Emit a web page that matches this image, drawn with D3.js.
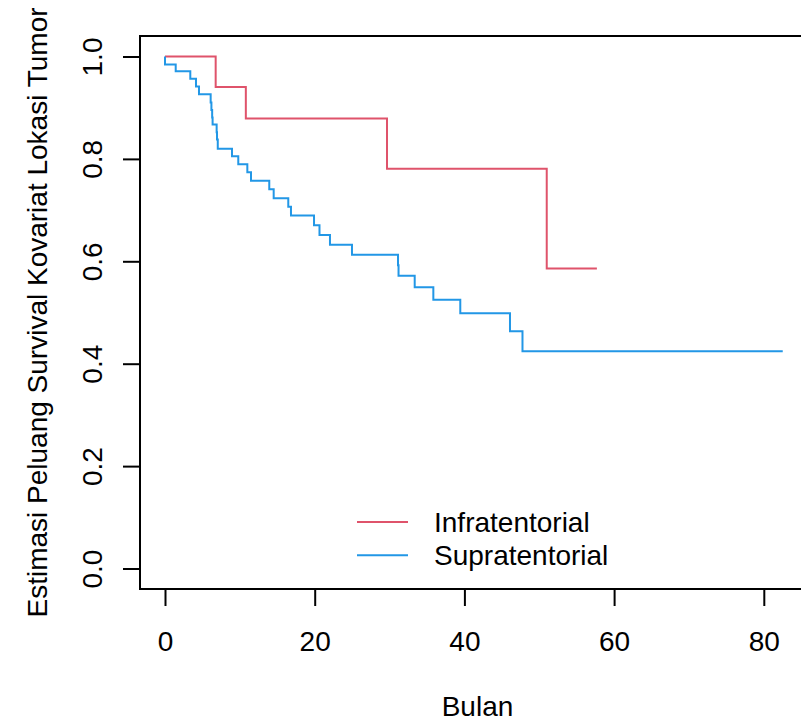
<!DOCTYPE html>
<html>
<head>
<meta charset="utf-8">
<script src="https://cdn.jsdelivr.net/npm/d3@7"></script>
<style>
  html, body { margin: 0; padding: 0; background: #fff; }
  svg { display: block; font-family: "Liberation Sans", Arial, Helvetica, sans-serif; }
</style>
</head>
<body>
<svg id="chart" width="801" height="724"></svg>
<script>
// Kaplan-Meier step estimates by tumour location
const groupNames = ["Infratentorial", "Supratentorial"];
const groupColors = ["#DF536B", "#2297E6"];

const infraTimes = [0, 6.77, 10.8, 29.66, 51.0, 57.7];
const infraSurv  = [1.0, 0.9406, 0.879, 0.7806, 0.5857, 0.5857];

const supraTimes = [0, 0, 1.43, 3.38, 4.14, 4.54, 6.1, 6.2, 6.3, 6.36, 6.9, 6.95, 7.05,
  8.95, 9.79, 11.0, 11.49, 13.93, 14.52, 16.47, 16.83, 19.91, 20.64, 22.04, 24.98,
  31.13, 31.2, 33.36, 35.85, 39.45, 46.09, 47.76, 82.53];
const supraSurv  = [1.0, 0.9844, 0.9713, 0.9564, 0.9414, 0.9263, 0.9101, 0.8955, 0.8808, 0.867, 0.852, 0.8378, 0.8196,
  0.8052, 0.7895, 0.7739, 0.7571, 0.7407, 0.7231, 0.7063, 0.6893, 0.6703, 0.6516, 0.6322, 0.613,
  0.5921, 0.572, 0.5492, 0.5251, 0.4987, 0.4636, 0.4245, 0.4245];

const xTicks = [0, 20, 40, 60, 80];
const yTicks = [0.0, 0.2, 0.4, 0.6, 0.8, 1.0];
const xLabel = "Bulan";
const yLabel = "Estimasi Peluang Survival Kovariat Lokasi Tumor";

// layout
const svg = d3.select("#chart");
const plot = { left: 140, right: 815, top: 36, bottom: 589 };
const xLim = [0, 83.5], yLim = [0, 1];
const xPad = (xLim[1] - xLim[0]) * 0.04, yPad = (yLim[1] - yLim[0]) * 0.04;

const x = d3.scaleLinear().domain([xLim[0] - xPad, xLim[1] + xPad]).range([plot.left, plot.right]);
const y = d3.scaleLinear().domain([yLim[0] - yPad, yLim[1] + yPad]).range([plot.bottom, plot.top]);

const fontSize = 28;

// survival curves
const line = d3.line().x(d => x(d[0])).y(d => y(d[1])).curve(d3.curveStepAfter);
const series = [
  d3.zip(infraTimes, infraSurv),
  d3.zip(supraTimes, supraSurv)
];
svg.append("g").selectAll("path").data(series).join("path")
  .attr("d", line)
  .attr("fill", "none")
  .attr("stroke", (d, i) => groupColors[i])
  .attr("stroke-width", 2);

// frame
svg.append("rect")
  .attr("x", plot.left).attr("y", plot.top)
  .attr("width", plot.right - plot.left).attr("height", plot.bottom - plot.top)
  .attr("fill", "none").attr("stroke", "#000").attr("stroke-width", 2);

// x axis
const xAxis = svg.append("g").attr("transform", `translate(0,${plot.bottom})`)
  .call(d3.axisBottom(x).tickValues(xTicks).tickSize(17).tickPadding(0).tickFormat(d3.format("d")));
xAxis.select(".domain").remove();
xAxis.selectAll(".tick line").attr("stroke", "#000").attr("stroke-width", 2);
xAxis.selectAll(".tick text")
  .attr("y", 62).attr("dy", null)
  .attr("font-size", fontSize).attr("font-family", "Liberation Sans, Arial, sans-serif").attr("fill", "#000");
svg.append("line")
  .attr("x1", x(xTicks[0])).attr("x2", x(xTicks[xTicks.length - 1]))
  .attr("y1", plot.bottom).attr("y2", plot.bottom)
  .attr("stroke", "#000").attr("stroke-width", 2);

// y axis
const yAxis = svg.append("g").attr("transform", `translate(${plot.left},0)`)
  .call(d3.axisLeft(y).tickValues(yTicks).tickSize(17).tickFormat(d3.format(".1f")));
yAxis.select(".domain").remove();
yAxis.selectAll(".tick line").attr("stroke", "#000").attr("stroke-width", 2);
yAxis.selectAll(".tick text")
  .attr("x", null).attr("dy", null)
  .attr("text-anchor", "middle")
  .attr("transform", "translate(-38,0) rotate(-90)")
  .attr("font-size", fontSize).attr("font-family", "Liberation Sans, Arial, sans-serif").attr("fill", "#000");

// axis titles
svg.append("text")
  .attr("x", (plot.left + plot.right) / 2).attr("y", 716)
  .attr("text-anchor", "middle").attr("font-size", fontSize).attr("fill", "#000")
  .text(xLabel);
svg.append("text")
  .attr("transform", `translate(47,${(plot.top + plot.bottom) / 2}) rotate(-90)`)
  .attr("text-anchor", "middle").attr("font-size", fontSize).attr("fill", "#000")
  .text(yLabel);

// legend
const legend = svg.append("g");
const legendY = [522, 555.3];
groupNames.forEach((name, i) => {
  legend.append("line")
    .attr("x1", 357).attr("x2", 408)
    .attr("y1", legendY[i]).attr("y2", legendY[i])
    .attr("stroke", groupColors[i]).attr("stroke-width", 2);
  legend.append("text")
    .attr("x", 434).attr("y", legendY[i] + 10)
    .attr("font-size", fontSize).attr("fill", "#000")
    .text(name);
});
</script>
</body>
</html>
